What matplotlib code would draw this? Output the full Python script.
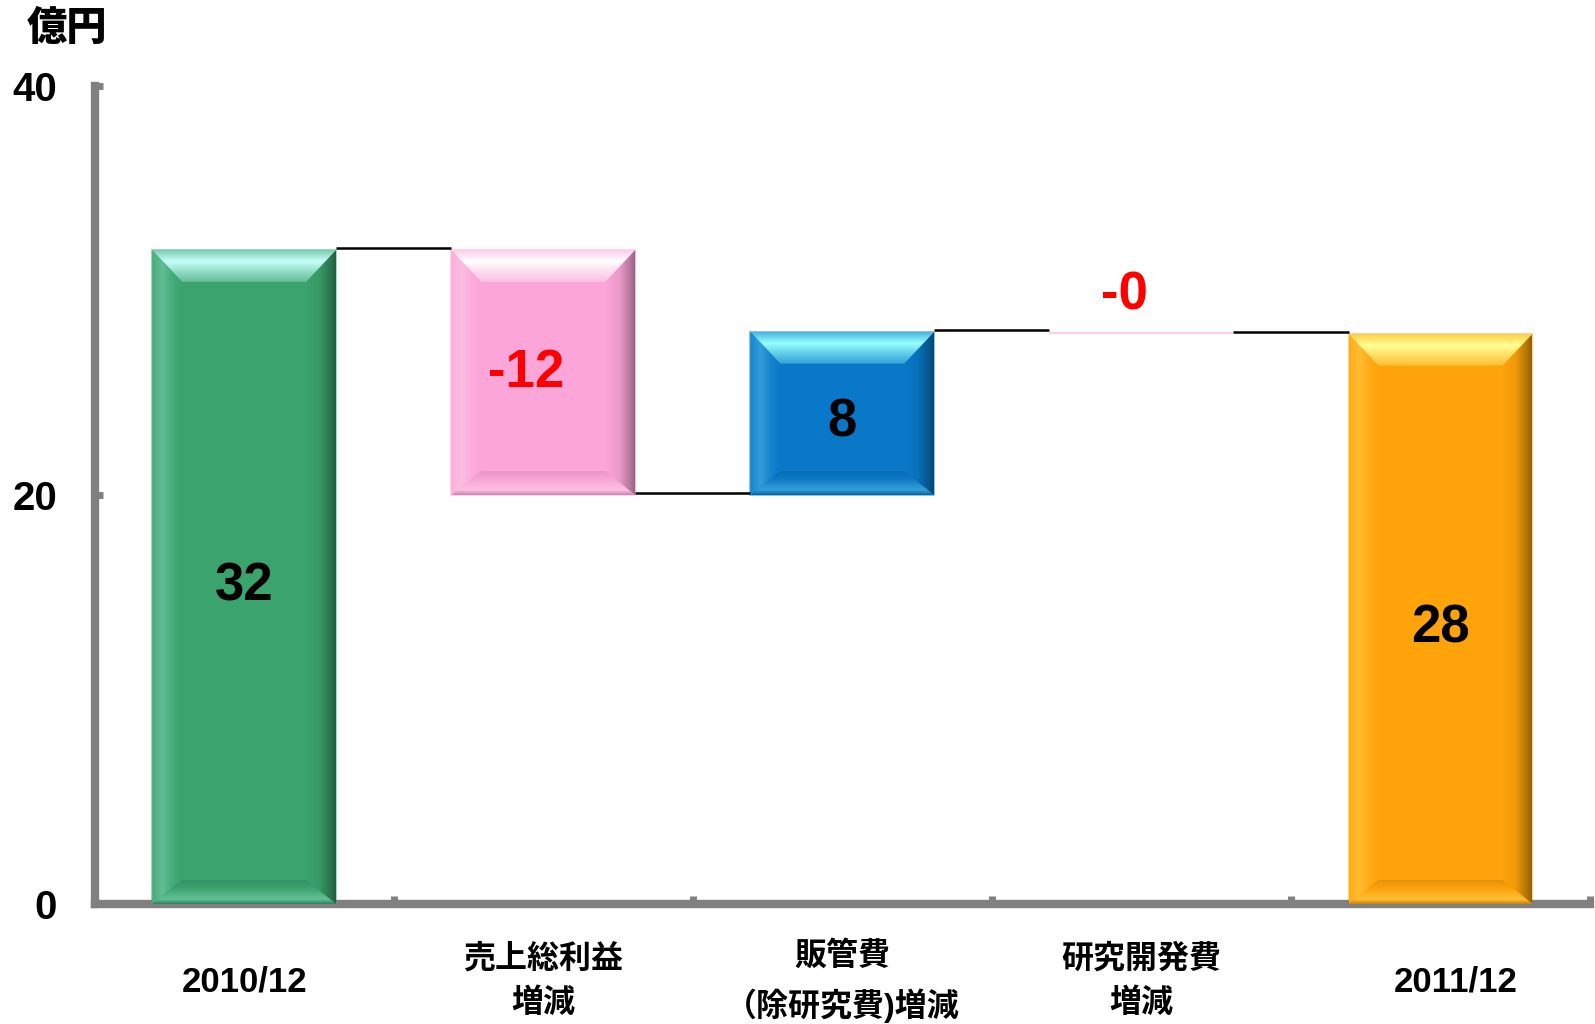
import numpy as np
import matplotlib
matplotlib.use('Agg')
import matplotlib.pyplot as plt
from matplotlib.patches import Polygon
from matplotlib.colors import LinearSegmentedColormap, to_rgb
from matplotlib.transforms import blended_transform_factory

plt.rcParams['font.family'] = ['Liberation Sans', 'Noto Sans CJK JP', 'DejaVu Sans']

# データ（億円）
categories = ['2010/12', '売上総利益\n増減', '販管費\n（除研究費)増減', '研究開発費\n増減', '2011/12']
values = [32.0, -12.0, 8.0, -0.1, 27.9]
is_total = [True, False, False, False, True]
bar_colors = ['#3AA36E', '#FCA5D8', '#0A78C8', '#FCA5D8', '#FFA30A']
yticks = [0, 20, 40]

W, H = 15.95, 10.24
fig = plt.figure(figsize=(W, H), dpi=100)
ax_pos = [0.0593, 0.1172, 0.9376, 0.7985]
ax = fig.add_axes(ax_pos)
ax.set_xlim(-0.5, 4.5)
ax.set_ylim(0, 40)

# ピクセル -> データ単位
px_x = 5.0 / (ax_pos[2] * W * 100)
px_y = 40.0 / (ax_pos[3] * H * 100)


def mix(c, t, a):
    c = np.array(to_rgb(c))
    t = np.array(to_rgb(t))
    return tuple(c * (1 - a) + t * a)


def grad_fill(verts, stops, vertical=True):
    poly = Polygon(verts, closed=True, facecolor='none', edgecolor='none', zorder=3)
    ax.add_patch(poly)
    xs = [v[0] for v in verts]
    ys = [v[1] for v in verts]
    cmap = LinearSegmentedColormap.from_list('g', stops)
    img = np.linspace(0, 1, 128)
    img = img.reshape(-1, 1) if vertical else img.reshape(1, -1)
    im = ax.imshow(img, cmap=cmap, vmin=0, vmax=1, origin='upper', aspect='auto',
                   extent=(min(xs), max(xs), min(ys), max(ys)),
                   interpolation='bilinear', zorder=3)
    im.set_clip_path(poly)


def bevel(x0, x1, b, t, c):
    bx = 30 * px_x
    bt = 32 * px_y
    bb = 24 * px_y
    k = 'black'
    hl = tuple(np.clip(np.array(to_rgb(c)) + 0.55, 0, 1))
    # 左
    grad_fill([(x0, t), (x0 + bx, t - bt), (x0 + bx, b + bb), (x0, b)],
              [(0, mix(c, hl, .10)), (0.35, mix(c, hl, .28)), (0.7, mix(c, hl, .08)),
               (1, c)], vertical=False)
    # 右
    grad_fill([(x1, t), (x1, b), (x1 - bx, b + bb), (x1 - bx, t - bt)],
              [(0, c), (0.45, mix(c, k, .06)), (0.85, mix(c, k, .3)), (1, mix(c, k, .42))],
              vertical=False)
    # 上
    grad_fill([(x0, t), (x1, t), (x1 - bx, t - bt), (x0 + bx, t - bt)],
              [(0, mix(c, hl, .45)), (0.35, hl), (0.7, mix(c, hl, .6)),
               (1, mix(c, hl, .3))])
    # 下
    grad_fill([(x0, b), (x0 + bx, b + bb), (x1 - bx, b + bb), (x1, b)],
              [(0, mix(c, k, .10)), (0.3, mix(c, k, .02)), (0.8, mix(c, hl, .3)),
               (1, mix(c, k, .2))])


width = 0.615
level = 0.0
tops = []
for i, (v, tot, col) in enumerate(zip(values, is_total, bar_colors)):
    bottom = 0.0 if tot else level
    hpx = abs(v) / px_y
    if hpx < 40:
        ax.bar(i, v, width, bottom=bottom, color=mix(col, 'white', .45), zorder=2)
    else:
        ax.bar(i, v, width, bottom=bottom, color=col, zorder=2,
               edgecolor=mix(col, 'white', .45), linewidth=1.2)
        lo, hi = min(bottom, bottom + v), max(bottom, bottom + v)
        bevel(i - width / 2, i + width / 2, lo, hi, col)
    level = v if tot else level + v
    tops.append(level)

    label = '%.0f' % v
    lc = 'red' if v < 0 else 'black'
    dx = -0.058 if v < 0 else 0.0
    if hpx < 40:
        ly = max(bottom, bottom + v) + 1.75
    elif v > 0:
        ly = bottom + v / 2 - 0.45
    else:
        ly = bottom + v / 2
    ax.text(i + dx, ly, label, ha='center', va='center', fontsize=38,
            fontweight='bold', color=lc, zorder=6, family='Liberation Sans')

# 接続線
for i in range(len(values) - 1):
    ax.plot([i + width / 2, i + 1 - width / 2], [tops[i] + 0.1, tops[i] + 0.1],
            color='black', lw=1.8, zorder=4, solid_capstyle='butt')

# 軸
for s in ['top', 'right']:
    ax.spines[s].set_visible(False)
for s in ['left', 'bottom']:
    ax.spines[s].set_color('#808080')
    ax.spines[s].set_linewidth(6)
    ax.spines[s].set_capstyle('projecting')

ax.set_yticks(yticks)
ax.set_yticklabels([str(t) for t in yticks])
ax.tick_params(axis='y', direction='in', length=6, width=5, color='#808080',
               pad=27, labelsize=29)
for lab in ax.get_yticklabels():
    lab.set_fontweight('bold')
ax.set_xticks(np.arange(-0.5, 5.0, 1.0))
ax.set_xticklabels([])
ax.tick_params(axis='x', direction='in', length=6, width=5, color='#808080')

trans = blended_transform_factory(ax.transData, ax.transAxes)
for i, cat in enumerate(categories):
    fs = 25 if cat.isascii() else 23
    dx = 0.05 if i == len(categories) - 1 else 0.0
    ax.text(i + dx, -0.095, cat, transform=trans, ha='center', va='center',
            multialignment='center', fontsize=fs, fontweight='bold',
            linespacing=1.6, clip_on=False)

fig.text(0.042, 0.973, '億円', ha='center', va='center', fontsize=29,
         fontweight='heavy', family=['Noto Sans CJK JP', 'DejaVu Sans'])

fig.savefig('out.png', dpi=100)
